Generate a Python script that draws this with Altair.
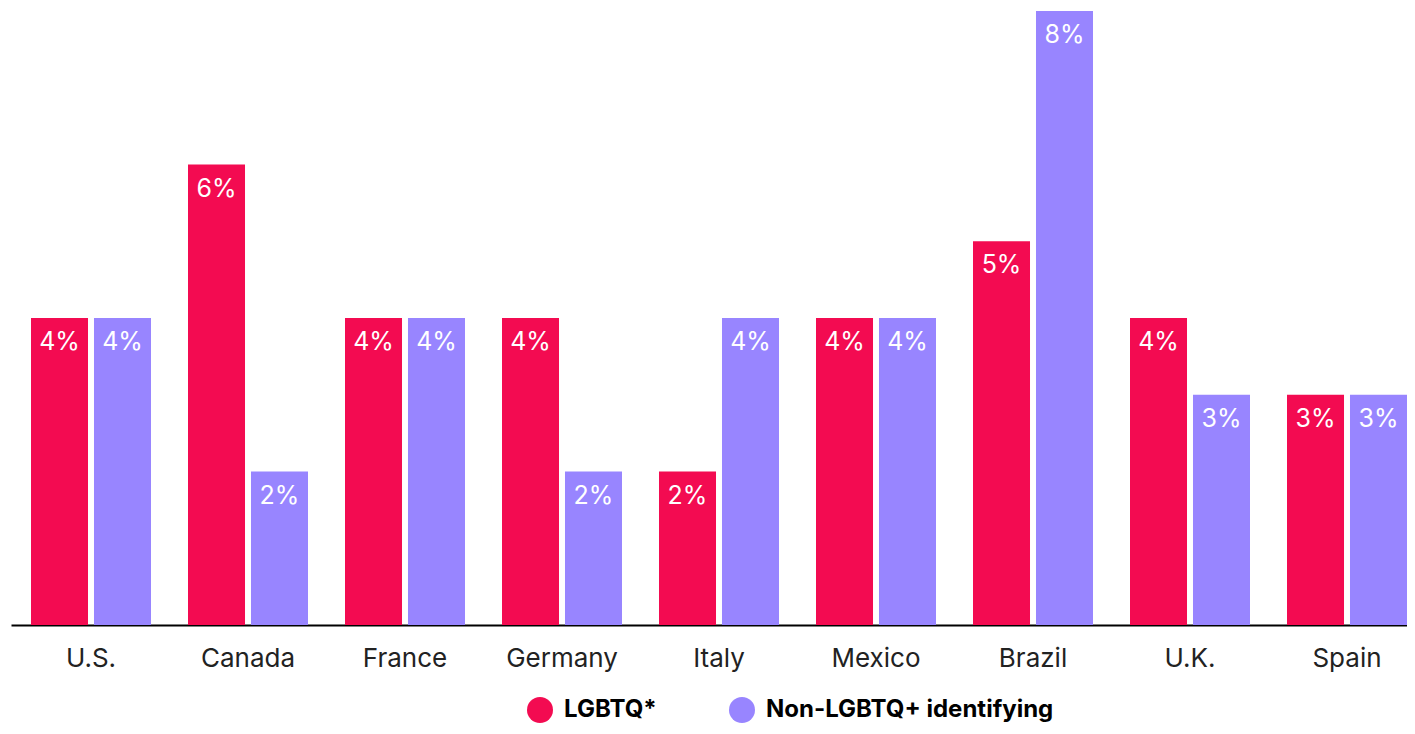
import altair as alt
import pandas as pd

countries = ["U.S.", "Canada", "France", "Germany", "Italy", "Mexico", "Brazil", "U.K.", "Spain"]
lgbtq = [4, 6, 4, 4, 2, 4, 5, 4, 3]
non_lgbtq = [4, 2, 4, 2, 4, 4, 8, 3, 3]
groups = ["LGBTQ*", "Non-LGBTQ+ identifying"]
colors = ["#F30B51", "#9885FF"]

rows = []
for c, a, b in zip(countries, lgbtq, non_lgbtq):
    rows.append({"country": c, "group": groups[0], "value": a})
    rows.append({"country": c, "group": groups[1], "value": b})
df = pd.DataFrame(rows)
df["label"] = df["value"].astype(str) + "%"

x = alt.X(
    "country:N", sort=countries, title=None,
    scale=alt.Scale(paddingInner=0.2357, paddingOuter=0.0637, align=1),
    axis=alt.Axis(labelAngle=0, labelFontSize=26, labelFont="Inter", labelColor="#222222",
                  labelPadding=20, ticks=False, domainColor="#000000", domainWidth=2, grid=False),
)
xo = alt.XOffset("group:N", sort=groups, scale=alt.Scale(paddingInner=0.095, paddingOuter=0))
y = alt.Y("value:Q", scale=alt.Scale(domain=[0, 8], nice=False), axis=None)

bars = alt.Chart(df).mark_bar().encode(
    x=x, xOffset=xo, y=y,
    color=alt.Color(
        "group:N", sort=groups,
        scale=alt.Scale(domain=groups, range=colors),
        legend=alt.Legend(
            orient="none", legendX=516, legendY=686, direction="horizontal", title=None,
            symbolType="circle", symbolSize=676, symbolStrokeWidth=0, symbolOpacity=1,
            labelFontSize=24, labelFont="Inter", labelFontWeight="bold", labelColor="#000000",
            labelOffset=11, labelLimit=600, columnPadding=72, padding=0,
        ),
    ),
)

labels = alt.Chart(df).mark_text(
    baseline="top", dy=12, color="white", fontSize=25, font="Inter"
).encode(x=x, xOffset=xo, y=y, text="label:N")

chart = (
    alt.layer(bars, labels)
    .properties(
        width=1396, height=614,
        padding={"left": 3, "top": 3, "right": 0, "bottom": 101},
        autosize=alt.AutoSizeParams(type="none"),
        background="white",
    )
    .configure_view(stroke=None)
)

chart.save("out.html", embed_options={"renderer": "svg", "actions": False})
